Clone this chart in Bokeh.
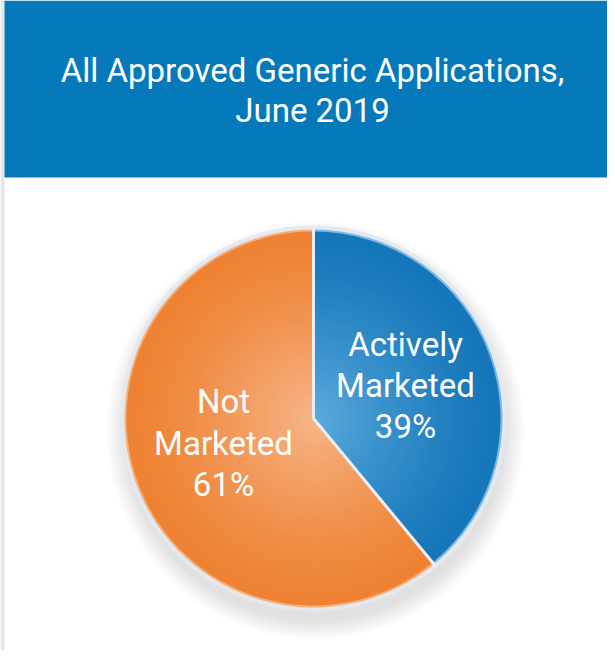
import math
from bokeh.plotting import figure
from bokeh.models import Range1d
from bokeh.core.properties import value
from bokeh.embed import file_html
from bokeh.resources import INLINE

# ---- data ----
title_lines = ["All Approved Generic Applications,", "June 2019"]
categories = ["Actively Marketed", "Not Marketed"]
shares = [39, 61]
label_lines = [["Actively", "Marketed", "39%"], ["Not", "Marketed", "61%"]]

# ---- style / layout ----
W, H = 607, 650
FONT = value("Roboto")
HEADER_BLUE = "#0679ba"
outer_cols = [(21, 118, 186), (238, 130, 50)]
inner_cols = [(92, 172, 222), (247, 182, 138)]
rim_cols = ["#79b9e4", "#f6b07c"]
CX, CY, R = 313, 232, 189
label_pos = [(405, [306, 265, 224]), (223, [249, 207, 166])]

p = figure(width=W, height=H, x_range=Range1d(0, W), y_range=Range1d(0, H),
           output_backend="svg", toolbar_location=None, min_border=0)
p.axis.visible = False
p.grid.visible = False
p.outline_line_color = None
p.background_fill_color = "white"
p.border_fill_color = "white"

# left gray frame line and header band
p.quad(left=0, right=4, bottom=0, top=H, fill_color="#e6e6e6", line_color=None)
p.quad(left=4, right=W, bottom=473, top=H, fill_color=HEADER_BLUE, line_color=None)

for i, line in enumerate(title_lines):
    p.text(x=[312], y=[580 - 40 * i], text=[line], text_font=FONT,
           text_font_size="33px", text_color="white",
           text_align="center", text_baseline="middle")

# soft shadow (mostly below)
for k in range(10):
    p.circle(x=[CX + 2], y=[CY - 12], radius=R + 2 + k * 2.0,
             fill_color="#000000", fill_alpha=0.012, line_color=None)

# light border ring
p.circle(x=[CX], y=[CY], radius=R + 4, fill_color="#e3e9ee", line_color=None)

# wedges with radial gradient
total = sum(shares)
angles = []
a = math.pi / 2
for s in shares:
    b = a - 2 * math.pi * s / total
    angles.append((a, b))
    a = b

N = 36
for idx, (a0, a1) in enumerate(angles):
    oc, ic = outer_cols[idx], inner_cols[idx]
    p.annular_wedge(x=[CX], y=[CY], inner_radius=R - 3, outer_radius=R,
                    start_angle=a0, end_angle=a1, direction="clock",
                    fill_color=rim_cols[idx], line_color=None)
    for j in range(N):
        t = j / (N - 1)
        r = (R - 3) * (1 - t) + 1
        tt = t ** 1.3
        col = "#%02x%02x%02x" % tuple(int(oc[c] + (ic[c] - oc[c]) * tt) for c in range(3))
        p.wedge(x=[CX], y=[CY], radius=r, start_angle=a0, end_angle=a1,
                direction="clock", fill_color=col, line_color=None)

# separators
p.ray(x=[CX, CX], y=[CY, CY], length=R + 3, angle=[a0 for a0, _ in angles],
      line_color="#e8eef3", line_width=3)

# slice labels
for (lx, ys), lines in zip(label_pos, label_lines):
    for yy, txt in zip(ys, lines):
        p.text(x=[lx], y=[yy], text=[txt], text_font=FONT, text_font_size="33px",
               text_color="white", text_align="center", text_baseline="middle")

open("out.html", "w").write(file_html(p, INLINE))
